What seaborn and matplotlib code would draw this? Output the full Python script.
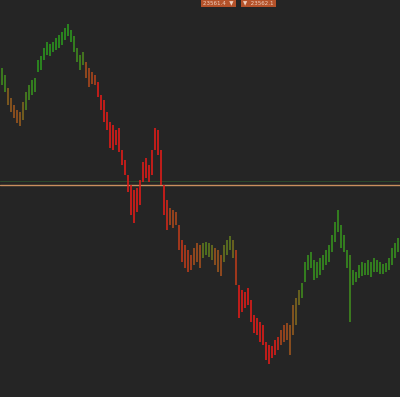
import numpy as np
import pandas as pd
import matplotlib
matplotlib.use("Agg")
import matplotlib.pyplot as plt
import seaborn as sns

# ===================== DATA =====================
# bar highs / lows (price units), one per bar
highs = [332, 325, 312, 302, 295, 290, 288, 298, 308, 315, 320, 322, 340, 344, 352, 358,
         356, 358, 362, 365, 368, 372, 376, 370, 364, 352, 345, 348, 338, 332, 328, 325,
         318, 305, 300, 288, 278, 275, 270, 272, 250, 240, 225, 215, 210, 212, 220, 238,
         242, 235, 250, 272, 270, 250, 215, 200, 192, 190, 188, 175, 160, 155, 150, 145,
         152, 157, 155, 157, 158, 157, 155, 152, 150, 145, 155, 160, 164, 160, 150, 115,
         110, 108, 112, 100, 85, 82, 78, 75, 58, 55, 54, 60, 63, 70, 75, 77,
         75, 95, 102, 110, 117, 138, 145, 148, 140, 138, 142, 145, 150, 155, 165, 178,
         190, 175, 165, 150, 145, 130, 128, 135, 138, 137, 140, 138, 142, 140, 138, 136,
         137, 142, 152, 157, 162]
lows = [315, 308, 295, 288, 282, 277, 274, 280, 290, 300, 305, 308, 328, 330, 340, 345,
        344, 348, 350, 352, 355, 360, 364, 358, 348, 338, 330, 335, 322, 313, 316, 315,
        303, 290, 278, 270, 252, 250, 255, 248, 235, 225, 208, 185, 177, 188, 195, 218,
        222, 218, 225, 250, 245, 215, 185, 170, 175, 172, 175, 150, 138, 132, 128, 130,
        135, 138, 132, 142, 145, 143, 140, 135, 128, 124, 138, 145, 150, 142, 115, 82,
        88, 92, 95, 78, 67, 65, 58, 55, 40, 36, 42, 45, 50, 55, 58, 60,
        45, 65, 75, 95, 102, 118, 130, 132, 120, 122, 125, 130, 135, 138, 148, 158,
        168, 152, 148, 132, 78, 115, 118, 122, 124, 125, 125, 123, 128, 128, 126, 126,
        128, 130, 135, 142, 148]
# trend indicator per bar: -1 bearish (red) .. +1 bullish (green)
trend = [0.8, 0.8, 0.1, 0.0, -0.1, -0.1, 0.0, 0.2, 0.7, 0.8, 0.9, 0.9, 1.0, 1.0, 1.0, 1.0,
         1.0, 1.0, 1.0, 1.0, 1.0, 1.0, 1.0, 1.0, 0.9, 0.8, 0.8, 0.7, -0.2, -0.3, -0.3, -0.4,
         -1.0, -1.0, -1.0, -1.0, -1.0, -1.0, -1.0, -1.0, -1.0, -1.0, -1.0, -1.0, -1.0, -1.0, -1.0, -1.0,
         -1.0, -1.0, -1.0, -1.0, -1.0, -1.0, -1.0, -0.8, -0.3, -0.3, -0.3, -0.5, -0.6, -0.5, -0.5, -0.4,
         -0.2, -0.2, -0.2, 0.5, 0.6, 0.5, 0.4, -0.1, -0.1, -0.2, 0.4, 0.5, 0.5, 0.3, -0.5, -1.0,
         -1.0, -1.0, -1.0, -1.0, -1.0, -1.0, -1.0, -1.0, -1.0, -1.0, -1.0, -1.0, -0.8, -0.3, -0.3, -0.2,
         -0.1, 0.0, 0.2, 0.3, 0.8, 0.9, 0.9, 0.9, 0.9, 0.9, 0.9, 0.9, 0.9, 0.9, 0.9, 0.9,
         0.9, 0.9, 0.9, 0.9, 0.8, 0.9, 0.9, 0.9, 0.9, 0.9, 0.9, 0.9, 0.9, 0.9, 0.9, 0.9,
         0.9, 0.9, 0.9, 0.9, 0.9]

level_price = 215      # horizontal reference level
level_price_2 = 219    # faint level just above
tag_left = "23561.4  ▼"
tag_right = "▼  23562.1"

bars = pd.DataFrame({"high": highs, "low": lows, "trend": trend})
bars["idx"] = np.arange(len(bars))

# ===================== STYLE =====================
bg = "#252525"
sns.set_theme(style="dark", rc={"axes.facecolor": bg, "figure.facecolor": "white"})
plt.rcParams['font.family'] = ['DejaVu Sans']

cmap = sns.blend_palette(["#dc1c18", "#935a1e", "#2c951e"], n_colors=64, as_cmap=True)
colors = [cmap((t + 1) / 2) for t in bars["trend"]]

# ===================== PLOT =====================
fig = plt.figure(figsize=(4, 4), dpi=100)
ax = fig.add_axes([0, 3 / 400, 1, 397 / 400])

ax.axhline(level_price_2, color="#2c4a2c", lw=0.7, zorder=1)
ax.axhline(level_price, color="#c8905e", lw=1.0, zorder=1)

ax.vlines(bars["idx"], bars["low"], bars["high"], colors=colors, lw=1.2, zorder=2)

ax.set_xlim(-0.5, 400 / 3 - 0.5)
ax.set_ylim(3, 400)
ax.set_xticks([])
ax.set_yticks([])
for s in ax.spines.values():
    s.set_visible(False)

# top price tags
tag_box = dict(boxstyle="square,pad=0.4", fc="#b4522a", ec="none")
ax.text(203 / 400, 0.9995, tag_left, transform=ax.transAxes, ha="left", va="top",
        fontsize=4, color="#f0d0c0", bbox=tag_box)
ax.text(243 / 400, 0.9995, tag_right, transform=ax.transAxes, ha="left", va="top",
        fontsize=4, color="#f0d0c0", bbox=tag_box)

fig.savefig("out.png", dpi=100)
